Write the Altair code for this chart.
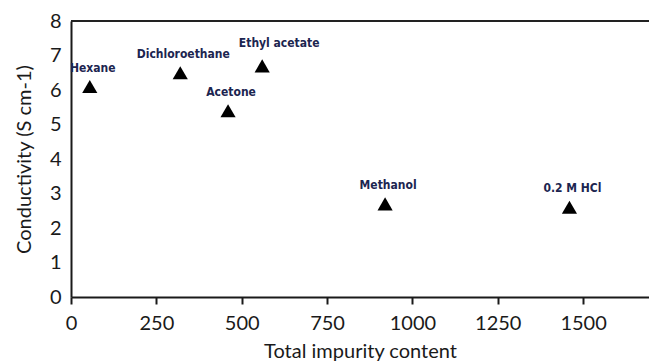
import altair as alt
import pandas as pd

# Solvent treatments: impurity content vs. measured conductivity
solvents = ["Hexane", "Dichloroethane", "Ethyl acetate", "Acetone", "Methanol", "0.2 M HCl"]
impurity = [55, 320, 560, 460, 920, 1460]
conductivity = [6.1, 6.5, 6.7, 5.4, 2.7, 2.6]

df = pd.DataFrame({"solvent": solvents, "impurity": impurity, "conductivity": conductivity})

axis_font = "Lato"
label_font = "'Liberation Sans Narrow', 'DejaVu Sans Condensed', Roboto, sans-serif"
ink = "#1a1a1a"

x_scale = alt.Scale(domain=[0, 1693], nice=False, zero=True)
y_scale = alt.Scale(domain=[0, 8], nice=False)

x_axis = alt.Axis(
    values=[0, 250, 500, 750, 1000, 1250, 1500],
    format="d",
    grid=False,
    labelOverlap=False,
    labelFlush=False,
    domainColor=ink,
    domainWidth=2,
    tickColor=ink,
    tickWidth=2,
    tickSize=7,
    labelFont=axis_font,
    labelFontSize=20,
    labelColor=ink,
    labelPadding=9,
    titleFont=axis_font,
    titleFontSize=20,
    titleFontWeight="normal",
    titleColor=ink,
    titlePadding=8,
)
y_axis = alt.Axis(
    values=[0, 1, 2, 3, 4, 5, 6, 7, 8],
    format="d",
    grid=False,
    ticks=False,
    labelOverlap=False,
    labelFlush=False,
    domainColor=ink,
    domainWidth=2,
    labelFont=axis_font,
    labelFontSize=20,
    labelColor=ink,
    labelPadding=10,
    titleFont=axis_font,
    titleFontSize=20,
    titleFontWeight="normal",
    titleColor=ink,
    titlePadding=15,
)

x = alt.X("impurity:Q", title="Total impurity content", scale=x_scale, axis=x_axis)
y = alt.Y("conductivity:Q", title="Conductivity (S cm-1)", scale=y_scale, axis=y_axis)

points = alt.Chart(df).mark_point(
    shape="triangle-up", filled=True, color="black", opacity=1, size=230
).encode(x=x, y=y)

label_style = dict(font=label_font, fontSize=12, fontWeight="bold", color="#1c2550")

labels = (
    alt.Chart(df)
    .transform_filter(alt.datum.solvent != "Ethyl acetate")
    .mark_text(dy=-19, dx=3, **label_style)
    .encode(x=x, y=y, text="solvent:N")
)

# the ethyl acetate label sits a little higher and to the right of its marker
label_shifted = (
    alt.Chart(df)
    .transform_filter(alt.datum.solvent == "Ethyl acetate")
    .mark_text(dy=-23, dx=17, **label_style)
    .encode(x=x, y=y, text="solvent:N")
)

# frame line along the top of the plot area
top_line = alt.Chart(df).mark_rule(color="#222222", strokeWidth=2).encode(
    y=alt.YDatum(8, scale=y_scale, axis=y_axis, title="Conductivity (S cm-1)")
)

chart = (
    alt.layer(points, labels, label_shifted, top_line)
    .properties(
        width=578,
        height=276,
        autosize=alt.AutoSizeParams(type="none"),
        padding={"left": 71, "top": 21, "right": 0, "bottom": 66},
        background="white",
    )
    .configure_view(stroke=None)
)

chart.save("out.html", embed_options={"renderer": "svg", "actions": False})
